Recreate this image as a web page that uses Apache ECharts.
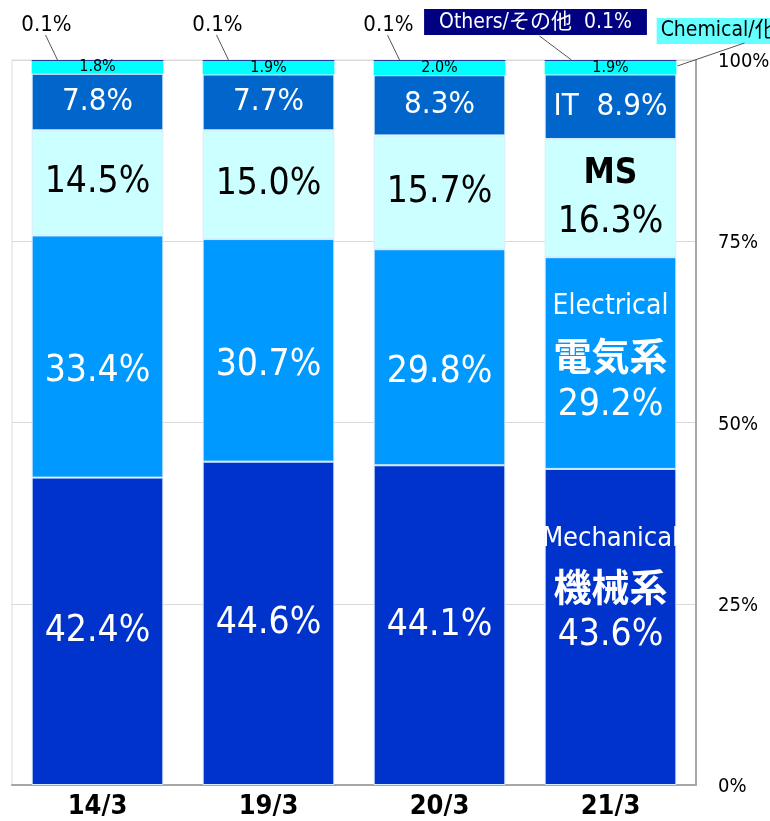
<!DOCTYPE html>
<html>
<head>
<meta charset="utf-8">
<script src="https://cdn.jsdelivr.net/npm/echarts@6/dist/echarts.min.js"></script>
<style>
html, body { margin: 0; padding: 0; background: #fff; }
#chart { width: 770px; height: 821px; }
</style>
</head>
<body>
<div id="chart"></div>
<script>
// 事業分野別 売上構成比
const periods = ['14/3', '19/3', '20/3', '21/3'];
const mechanical = [42.4, 44.6, 44.1, 43.6];
const electrical = [33.4, 30.7, 29.8, 29.2];
const ms = [14.5, 15.0, 15.7, 16.3];
const it = [7.8, 7.7, 8.3, 8.9];
const chemical = [1.8, 1.9, 2.0, 1.9];
const others = [0.1, 0.1, 0.1, 0.1];
const yTickLabels = ['0%', '25%', '50%', '75%', '100%'];

const FONT = '"Liberation Sans Narrow", "DejaVu Sans Condensed", "Noto Sans CJK JP", sans-serif';
const JP = '"Noto Sans CJK JP", sans-serif';
const last = periods.length - 1;
const BAR = 0.77;
const pct = v => v.toFixed(1) + '%';
const edge = { borderColor: '#d6ecff', borderWidth: 1 };
const totals = periods.map((_, i) =>
  [mechanical, electrical, ms, it, chemical, others].reduce((s, a) => s + a[i], 0));

function items(arr, labelFor) {
  return arr.map((v, i) => {
    const lab = labelFor ? labelFor(i) : null;
    return lab ? { value: v, label: lab } : v;
  });
}

// leader lines from the outside labels down to the top of each bar
function leaderLines(params, api) {
  const i = api.value(0);
  const top = api.coord([i, api.value(1)]);
  const half = api.size([1, 0])[0] * BAR / 2;
  const cx = top[0], ty = top[1];
  const segs = i === last
    ? [[cx - 71, 36, cx - 39, ty], [cx + half + 1, ty + 6, cx + 134, 43]]
    : [[cx - 52, 35, cx - 40, ty]];
  return {
    type: 'group',
    children: segs.map(s => ({
      type: 'line',
      shape: { x1: s[0], y1: s[1], x2: s[2], y2: s[3] },
      style: { stroke: '#555', lineWidth: 1 }
    }))
  };
}

const option = {
  animation: false,
  textStyle: { fontFamily: FONT },
  grid: {
    left: 12, right: 74, top: 60, bottom: 36,
    outerBoundsMode: 'none',
    show: true, borderColor: '#dcdcdc', borderWidth: 1
  },
  xAxis: {
    type: 'category',
    data: periods,
    axisLine: { lineStyle: { color: '#a6a6a6', width: 2 } },
    axisTick: { show: false },
    axisLabel: { color: '#000', fontSize: 27, fontWeight: 'bold', margin: 8, fontFamily: FONT }
  },
  yAxis: {
    type: 'value',
    position: 'right',
    min: 0, max: 100, interval: 25,
    axisLine: { show: true, lineStyle: { color: '#a6a6a6', width: 2 } },
    axisTick: { show: false },
    splitLine: { lineStyle: { color: '#d9d9d9', width: 1 } },
    axisLabel: {
      color: '#000', fontSize: 20, margin: 22, fontFamily: FONT,
      formatter: v => yTickLabels[Math.round(v / 25)],
      verticalAlign: 'top', padding: [-8, 0, 0, 0]
    }
  },
  series: [
    {
      name: 'Mechanical', type: 'bar', stack: 'total', barWidth: (BAR * 100) + '%',
      itemStyle: Object.assign({ color: '#0033cc' }, edge),
      label: {
        show: true, position: 'inside', color: '#fff', fontSize: 37, fontFamily: FONT,
        formatter: p => p.dataIndex === last
          ? '{en|Mechanical}\n{jp|機械系}\n{num|' + pct(p.value) + '}'
          : pct(p.value),
        rich: {
          en: { color: '#fff', fontSize: 27, fontFamily: FONT, lineHeight: 48 },
          jp: { color: '#fff', fontSize: 38, fontWeight: 'bold', fontFamily: JP, lineHeight: 48 },
          num: { color: '#fff', fontSize: 37, fontFamily: FONT, lineHeight: 48 }
        }
      },
      data: items(mechanical, i => i === last ? { offset: [0, -40] } : null)
    },
    {
      name: 'Electrical', type: 'bar', stack: 'total',
      itemStyle: Object.assign({ color: '#0099ff' }, edge),
      label: {
        show: true, position: 'inside', color: '#fff', fontSize: 37, fontFamily: FONT,
        formatter: p => p.dataIndex === last
          ? '{en|Electrical}\n{jp|電気系}\n{num|' + pct(p.value) + '}'
          : pct(p.value),
        rich: {
          en: { color: '#fff', fontSize: 28, fontFamily: FONT, lineHeight: 49 },
          jp: { color: '#fff', fontSize: 38, fontWeight: 'bold', fontFamily: JP, lineHeight: 49 },
          num: { color: '#fff', fontSize: 37, fontFamily: FONT, lineHeight: 49 }
        }
      },
      data: items(electrical, i => i === last ? { offset: [0, -7] } : { offset: [0, 15] })
    },
    {
      name: 'MS', type: 'bar', stack: 'total',
      itemStyle: Object.assign({ color: '#ccffff' }, edge),
      label: {
        show: true, position: 'inside', color: '#000', fontSize: 37, fontFamily: FONT,
        formatter: p => p.dataIndex === last
          ? '{b|MS}\n{num|' + pct(p.value) + '}'
          : pct(p.value),
        rich: {
          b: { color: '#000', fontSize: 35, fontWeight: 'bold', fontFamily: FONT, lineHeight: 49 },
          num: { color: '#000', fontSize: 37, fontFamily: FONT, lineHeight: 49 }
        }
      },
      data: items(ms)
    },
    {
      name: 'IT', type: 'bar', stack: 'total',
      itemStyle: Object.assign({ color: '#0066cc' }, edge),
      label: {
        show: true, position: 'inside', color: '#fff', fontSize: 31, fontFamily: FONT,
        formatter: p => (p.dataIndex === last ? 'IT  ' : '') + pct(p.value)
      },
      data: items(it)
    },
    {
      name: 'Chemical', type: 'bar', stack: 'total',
      itemStyle: { color: '#00ffff', borderWidth: 0 },
      label: {
        show: true, position: 'inside', color: '#000', fontSize: 16, fontFamily: FONT,
        formatter: p => pct(p.value)
      },
      data: items(chemical)
    },
    {
      name: 'Others', type: 'bar', stack: 'total',
      itemStyle: { color: '#000080', borderWidth: 0 },
      label: {
        show: true, color: '#000', fontSize: 22, fontFamily: FONT,
        formatter: p => p.dataIndex === last
          ? '{box|Others/その他  ' + pct(p.value) + '}'
          : pct(p.value),
        rich: {
          box: {
            color: '#fff', fontSize: 21, fontFamily: FONT, backgroundColor: '#000080',
            padding: [3, 15, 2, 15]
          }
        }
      },
      labelLayout: p => {
        const cx = p.rect.x + p.rect.width / 2;
        return p.dataIndex === last
          ? { x: cx - 75, y: 22, align: 'center', verticalAlign: 'middle' }
          : { x: cx - 51, y: 25, align: 'center', verticalAlign: 'middle' };
      },
      data: items(others)
    },
    {
      // callout for the Chemical segment of the latest bar
      name: 'ChemicalCallout', type: 'bar', stack: 'total',
      itemStyle: { color: 'transparent', borderWidth: 0 },
      label: {
        show: true, color: '#000', fontSize: 21, fontFamily: FONT,
        backgroundColor: '#66ffff', padding: [3, 4, 2, 4],
        formatter: () => 'Chemical/化学  ' + pct(chemical[last])
      },
      labelLayout: p => ({ x: p.rect.x + 112, y: 31, align: 'left', verticalAlign: 'middle' }),
      data: periods.map((_, i) => i === last ? 0 : '-')
    },
    {
      name: 'leader', type: 'custom', clip: false, z: 5,
      renderItem: leaderLines,
      encode: { x: 0, y: 1 },
      data: periods.map((_, i) => [i, totals[i]])
    }
  ]
};

const chart = echarts.init(document.getElementById('chart'));
chart.setOption(option);
</script>
</body>
</html>
